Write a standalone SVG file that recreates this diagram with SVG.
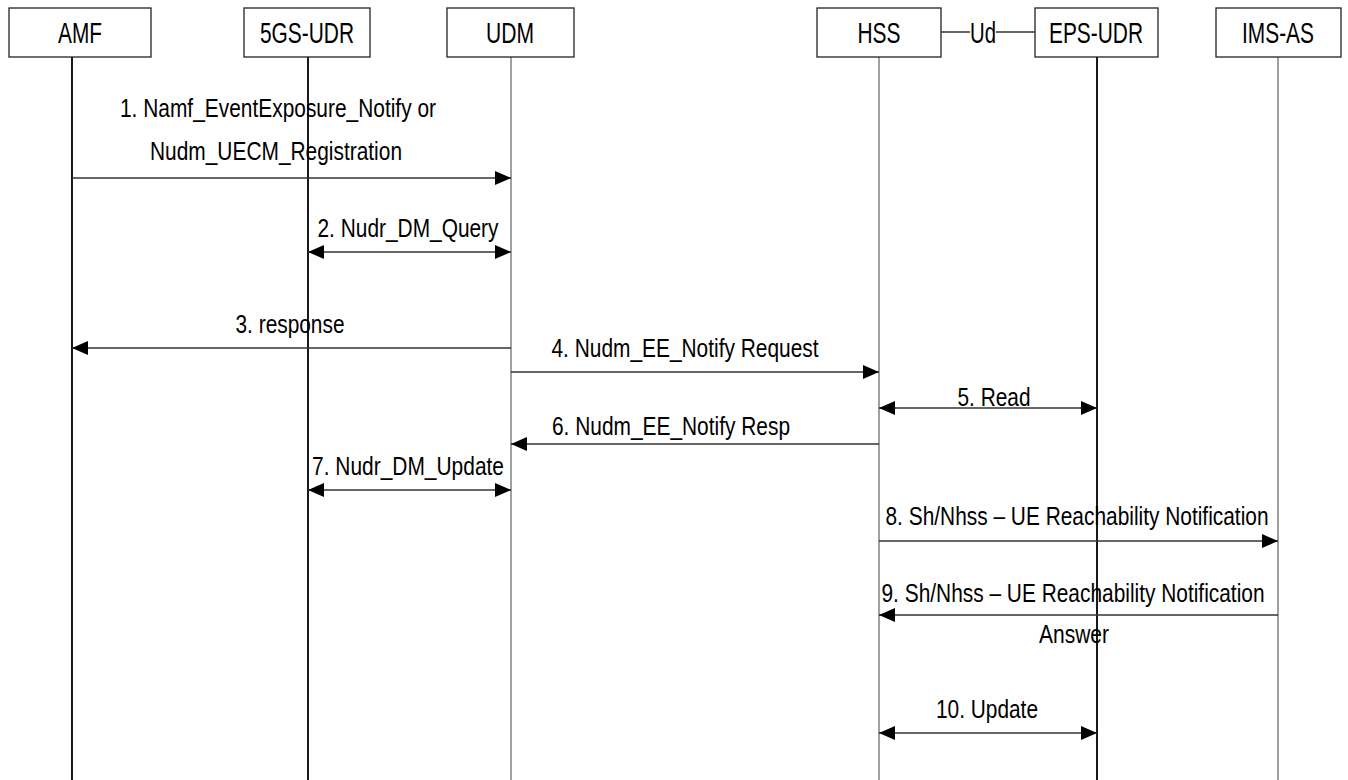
<svg xmlns="http://www.w3.org/2000/svg" width="1348" height="780" viewBox="0 0 1348 780">
  <style>
    .box { fill: #ffffff; stroke: #222222; stroke-width: 1.3; }
    .hdr { font-family: "Liberation Sans", Arial, sans-serif; font-size: 30px; fill: #000; text-anchor: middle; }
    .lbl { font-family: "Liberation Sans", Arial, sans-serif; font-size: 26px; fill: #000; text-anchor: middle; }
    .life-dark { stroke: #000000; stroke-width: 1.8; }
    .life-grey { stroke: #808080; stroke-width: 1.5; }
    .msg { stroke: #333333; stroke-width: 1.5; fill: none; }
    .one { marker-end: url(#ah); }
    .two { marker-start: url(#ah); marker-end: url(#ah); }
  </style>
  <defs>
    <marker id="ah" markerUnits="userSpaceOnUse" markerWidth="16" markerHeight="14" viewBox="0 0 16 14" refX="16" refY="7" orient="auto-start-reverse">
      <path d="M0,0 L16,7 L0,14 z" fill="#000"/>
    </marker>
  </defs>
  <rect width="1348" height="780" fill="#ffffff"/>

  <g id="lifelines">
    <line class="life-dark" x1="72" y1="57" x2="72" y2="780"/>
    <line class="life-dark" x1="308" y1="57" x2="308" y2="780"/>
    <line class="life-grey" x1="511" y1="57" x2="511" y2="780"/>
    <line class="life-grey" x1="879" y1="57" x2="879" y2="780"/>
    <line class="life-dark" x1="1097" y1="57" x2="1097" y2="780"/>
    <line class="life-grey" x1="1278" y1="57" x2="1278" y2="780"/>
  </g>

  <g id="node-amf">
    <rect class="box" x="9" y="8" width="142" height="49"/>
    <text class="hdr" x="80" y="43" textLength="44" lengthAdjust="spacingAndGlyphs">AMF</text>
  </g>
  <g id="node-5gs-udr">
    <rect class="box" x="244" y="8" width="126" height="49"/>
    <text class="hdr" x="307" y="43" textLength="94" lengthAdjust="spacingAndGlyphs">5GS-UDR</text>
  </g>
  <g id="node-udm">
    <rect class="box" x="447" y="8" width="127" height="49"/>
    <text class="hdr" x="510" y="43" textLength="48" lengthAdjust="spacingAndGlyphs">UDM</text>
  </g>
  <g id="node-hss">
    <rect class="box" x="817" y="8" width="124" height="49"/>
    <text class="hdr" x="879" y="43" textLength="43" lengthAdjust="spacingAndGlyphs">HSS</text>
  </g>
  <g id="node-eps-udr">
    <rect class="box" x="1035" y="8" width="123" height="49"/>
    <text class="hdr" x="1096" y="43" textLength="94" lengthAdjust="spacingAndGlyphs">EPS-UDR</text>
  </g>
  <g id="node-ims-as">
    <rect class="box" x="1216" y="8" width="125" height="49"/>
    <text class="hdr" x="1278" y="43" textLength="72" lengthAdjust="spacingAndGlyphs">IMS-AS</text>
  </g>

  <g id="connectors">
    <g id="ud-link">
      <line class="msg" x1="941" y1="32" x2="970" y2="32"/>
      <line class="msg" x1="996" y1="32" x2="1035" y2="32"/>
      <text class="hdr" x="983" y="43" textLength="26" lengthAdjust="spacingAndGlyphs">Ud</text>
    </g>

    <g id="msg1">
      <line class="msg one" x1="72" y1="178" x2="511" y2="178"/>
      <text class="lbl" x="278" y="117" textLength="316" lengthAdjust="spacingAndGlyphs">1. Namf_EventExposure_Notify or</text>
      <text class="lbl" x="276" y="160" textLength="252" lengthAdjust="spacingAndGlyphs">Nudm_UECM_Registration</text>
    </g>
    <g id="msg2">
      <line class="msg two" x1="308" y1="252" x2="511" y2="252"/>
      <text class="lbl" x="408" y="237" textLength="181" lengthAdjust="spacingAndGlyphs">2. Nudr_DM_Query</text>
    </g>
    <g id="msg3">
      <line class="msg one" x1="511" y1="348" x2="72" y2="348"/>
      <text class="lbl" x="290" y="333" textLength="109" lengthAdjust="spacingAndGlyphs">3. response</text>
    </g>
    <g id="msg4">
      <line class="msg one" x1="511" y1="372" x2="879" y2="372"/>
      <text class="lbl" x="685" y="357" textLength="267" lengthAdjust="spacingAndGlyphs">4. Nudm_EE_Notify Request</text>
    </g>
    <g id="msg5">
      <line class="msg two" x1="879" y1="408" x2="1097" y2="408"/>
      <text class="lbl" x="994" y="406" textLength="73" lengthAdjust="spacingAndGlyphs">5. Read</text>
    </g>
    <g id="msg6">
      <line class="msg one" x1="879" y1="444" x2="511" y2="444"/>
      <text class="lbl" x="671" y="435" textLength="238" lengthAdjust="spacingAndGlyphs">6. Nudm_EE_Notify Resp</text>
    </g>
    <g id="msg7">
      <line class="msg two" x1="308" y1="490" x2="511" y2="490"/>
      <text class="lbl" x="408" y="475" textLength="192" lengthAdjust="spacingAndGlyphs">7. Nudr_DM_Update</text>
    </g>
    <g id="msg8">
      <line class="msg one" x1="879" y1="541" x2="1278" y2="541"/>
      <text class="lbl" x="1077" y="525" textLength="383" lengthAdjust="spacingAndGlyphs">8. Sh/Nhss – UE Reachability Notification</text>
    </g>
    <g id="msg9">
      <line class="msg one" x1="1278" y1="615" x2="879" y2="615"/>
      <text class="lbl" x="1073" y="602" textLength="383" lengthAdjust="spacingAndGlyphs">9. Sh/Nhss – UE Reachability Notification</text>
      <text class="lbl" x="1074" y="643" textLength="70" lengthAdjust="spacingAndGlyphs">Answer</text>
    </g>
    <g id="msg10">
      <line class="msg two" x1="879" y1="733" x2="1097" y2="733"/>
      <text class="lbl" x="987" y="718" textLength="102" lengthAdjust="spacingAndGlyphs">10. Update</text>
    </g>
  </g>
</svg>
